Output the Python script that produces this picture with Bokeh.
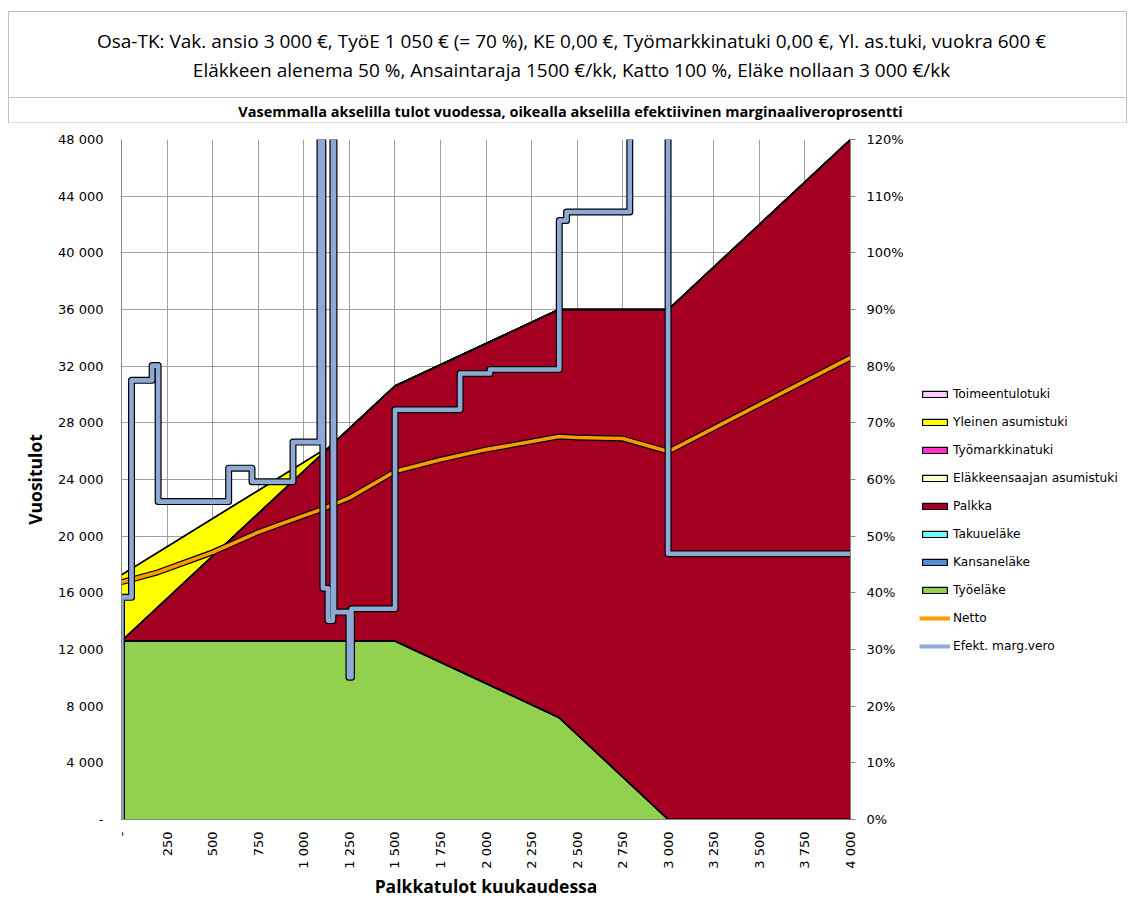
import math
from bokeh.plotting import figure
from bokeh.models import (Range1d, LinearAxis, FixedTicker, ColumnDataSource, Legend,
                          LegendItem, NumeralTickFormatter)
from bokeh.layouts import column, row
from bokeh.embed import file_html
from bokeh.resources import INLINE
from bokeh.core.properties import value

# ---------------- texts ----------------
title_line1 = "Osa-TK: Vak. ansio 3 000 €, TyöE 1 050 € (= 70 %), KE 0,00 €, Työmarkkinatuki 0,00 €, Yl. as.tuki, vuokra 600 €"
title_line2 = "Eläkkeen alenema 50 %, Ansaintaraja 1500 €/kk, Katto 100 %, Eläke nollaan 3 000 €/kk"
subtitle = "Vasemmalla akselilla tulot vuodessa, oikealla akselilla efektiivinen marginaaliveroprosentti"
x_label = "Palkkatulot kuukaudessa"
y_label = "Vuositulot"

# ---------------- stacked income components (annual €) vs monthly wage ----------------
wage_month = [0, 1090, 1095, 1500, 2400, 3000, 4000]
tyoelake = [12600, 12600, 12600, 12600, 7200, 0, 0]
kansanelake = [0, 0, 0, 0, 0, 0, 0]
takuuelake = [0, 0, 0, 0, 0, 0, 0]
palkka = [0, 13080, 13140, 18000, 28800, 36000, 48000]
elakkeensaajan_asumistuki = [0, 0, 0, 0, 0, 0, 0]
tyomarkkinatuki = [0, 0, 0, 0, 0, 0, 0]
yleinen_asumistuki = [4670, 250, 0, 0, 0, 0, 0]
toimeentulotuki = [0, 0, 0, 0, 0, 0, 0]

# ---------------- net income (annual €) ----------------
netto_x = [0, 200, 500, 750, 1000, 1100, 1250, 1500, 1750, 2000, 2250, 2400, 2500, 2750, 3000, 4000]
netto = [16750, 17450, 18860, 20280, 21450, 21900, 22700, 24560, 25400, 26110, 26680, 27030,
         26960, 26890, 25970, 32600]

# ---------------- effective marginal tax rate (share) ----------------
emtr_x = [0, 0, 55, 55, 168, 168, 201, 201, 588, 588, 716, 716, 941, 941, 1089, 1089,
          1105, 1105, 1133, 1133, 1160, 1160, 1166, 1166, 1248, 1248, 1262, 1262, 1501, 1501,
          1858, 1858, 2022, 2022, 2402, 2402, 2442, 2442, 2789, 2789, 2999, 2999, 4000]
emtr = [0.0, 0.392, 0.392, 0.775, 0.775, 0.801, 0.801, 0.561, 0.561, 0.620, 0.620, 0.596,
        0.596, 0.666, 0.666, 1.5, 1.5, 0.408, 0.408, 0.351, 0.351, 1.5, 1.5, 0.366, 0.366,
        0.251, 0.251, 0.372, 0.372, 0.723, 0.723, 0.787, 0.787, 0.794, 0.794, 1.057, 1.057,
        1.072, 1.072, 1.5, 1.5, 0.469, 0.469]

# ---------------- ticks ----------------
x_ticks = [0, 250, 500, 750, 1000, 1250, 1500, 1750, 2000, 2250, 2500, 2750, 3000, 3250, 3500, 3750, 4000]
x_tick_labels = ["-", "250", "500", "750", "1 000", "1 250", "1 500", "1 750", "2 000", "2 250",
                 "2 500", "2 750", "3 000", "3 250", "3 500", "3 750", "4 000"]
y_ticks = [0, 4000, 8000, 12000, 16000, 20000, 24000, 28000, 32000, 36000, 40000, 44000, 48000]
y_tick_labels = ["-", "4 000", "8 000", "12 000", "16 000", "20 000", "24 000", "28 000",
                 "32 000", "36 000", "40 000", "44 000", "48 000"]
pct_ticks = [0.0, 0.1, 0.2, 0.3, 0.4, 0.5, 0.6, 0.7, 0.8, 0.9, 1.0, 1.1, 1.2]

stack_names = ["tyoelake", "kansanelake", "takuuelake", "palkka", "elakkeensaajan_asumistuki",
               "tyomarkkinatuki", "yleinen_asumistuki", "toimeentulotuki"]
stack_labels = ["Työeläke", "Kansaneläke", "Takuueläke", "Palkka", "Eläkkeensaajan asumistuki",
                "Työmarkkinatuki", "Yleinen asumistuki", "Toimeentulotuki"]
stack_colors = ["#92D050", "#558ED5", "#66FFFF", "#A50021", "#FFFFCC", "#FF33CC", "#FFFF00", "#FFCCFF"]
legend_order = ["Toimeentulotuki", "Yleinen asumistuki", "Työmarkkinatuki", "Eläkkeensaajan asumistuki",
                "Palkka", "Takuueläke", "Kansaneläke", "Työeläke"]

FONT = "DejaVu Sans"
TFONT = "Open Sans"
W = 1134
PW = 906          # width of the chart canvas (left border + frame + right axis)
H = 793

# ================= header figure =================
t = figure(width=W, height=123, x_range=Range1d(0, W), y_range=Range1d(123, 0),
           output_backend="svg", toolbar_location=None, min_border=0,
           x_axis_type=None, y_axis_type=None)
t.frame_align = False
t.grid.visible = False
t.outline_line_color = None
t.text(x=[571, 571], y=[40, 69], text=[title_line1, title_line2], text_align="center",
       text_baseline="middle", text_font=value(TFONT), text_font_size="19px", text_color="black")
t.text(x=[570], y=[111], text=[subtitle], text_align="center", text_baseline="middle",
       text_font=value(TFONT), text_font_size="14.5px", text_font_style="bold", text_color="black")
t.segment(x0=[8, 8, 8, 8, 1126], y0=[11, 97, 122.5, 11, 11], x1=[1126, 1126, 1126, 8, 1126],
          y1=[11, 97, 122.5, 123, 123], line_color="#BFBFBF", line_width=1)

# ================= main chart =================
p = figure(width=PW, height=H, x_range=Range1d(0, 4000), y_range=Range1d(0, 48000),
           output_backend="svg", toolbar_location=None,
           min_border_left=121, min_border_right=PW - 121 - 730, min_border_top=16, min_border_bottom=97)
p.frame_align = False
p.outline_line_color = None
p.extra_y_ranges = {"pct": Range1d(0, 1.2)}

src = ColumnDataSource(dict(x=wage_month, tyoelake=tyoelake, kansanelake=kansanelake,
                            takuuelake=takuuelake, palkka=palkka,
                            elakkeensaajan_asumistuki=elakkeensaajan_asumistuki,
                            tyomarkkinatuki=tyomarkkinatuki, yleinen_asumistuki=yleinen_asumistuki,
                            toimeentulotuki=toimeentulotuki))
p.varea_stack(stackers=stack_names, x="x", color=stack_colors, source=src)
p.vline_stack(stackers=stack_names, x="x", line_color="black", line_width=1.5, source=src)

# net income line
p.line(netto_x, netto, line_color="black", line_width=6, line_join="round")
p.line(netto_x, netto, line_color="#FF9900", line_width=3.6, line_join="round")

# effective marginal tax rate line (right axis)
p.line(emtr_x, emtr, y_range_name="pct", line_color="black", line_width=7, line_join="round")
p.line(emtr_x, emtr, y_range_name="pct", line_color="#8EA9D6", line_width=4.6, line_join="round")

# axes
p.xaxis.ticker = FixedTicker(ticks=x_ticks)
p.xaxis.major_label_overrides = dict(zip(x_ticks, x_tick_labels))
p.xaxis.major_label_orientation = math.pi / 2
p.yaxis.ticker = FixedTicker(ticks=y_ticks)
p.yaxis.major_label_overrides = dict(zip(y_ticks, y_tick_labels))

rax = LinearAxis(y_range_name="pct", ticker=FixedTicker(ticks=pct_ticks),
                 formatter=NumeralTickFormatter(format="0%"))
p.add_layout(rax, "right")

for ax in [p.xaxis[0], p.yaxis[0], rax]:
    ax.axis_line_color = "#868686"
    ax.major_tick_line_color = "#868686"
    ax.minor_tick_line_color = None
    ax.major_label_text_font = FONT
    ax.major_label_text_font_size = "13px"
    ax.major_label_text_color = "black"
    ax.axis_label_text_font = TFONT
    ax.axis_label_text_font_style = "bold"
    ax.axis_label_text_font_size = "17.5px"
    ax.axis_label_text_color = "black"

p.xaxis.major_tick_out = 0
p.xaxis.major_tick_in = 0
p.xaxis.major_label_standoff = 12
p.xaxis.axis_label = x_label
p.xaxis.axis_label_standoff = 2
p.yaxis[0].major_tick_out = 0
p.yaxis[0].major_tick_in = 0
p.yaxis[0].major_label_standoff = 18
p.yaxis[0].axis_label = y_label
p.yaxis[0].axis_label_standoff = 8
rax.major_tick_out = 5
rax.major_tick_in = 0
rax.major_label_standoff = 11

p.xgrid.ticker = FixedTicker(ticks=x_ticks)
p.ygrid.ticker = FixedTicker(ticks=y_ticks)
p.grid.grid_line_color = "#A0A0A0"
p.grid.grid_line_width = 1

# ================= legend figure (right of the chart) =================
# renderers here only provide the legend swatches; their single point lies outside the view
lf = figure(width=W - PW, height=H, x_range=Range1d(0, 1), y_range=Range1d(0, 1),
            output_backend="svg", toolbar_location=None, min_border=0,
            x_axis_type=None, y_axis_type=None)
lf.frame_align = False
lf.grid.visible = False
lf.outline_line_color = None

items = []
color_of = dict(zip(stack_labels, stack_colors))
for lab in legend_order:
    r = lf.quad(left=[5], right=[6], top=[6], bottom=[5], fill_color=color_of[lab],
                line_color="black", line_width=1.2)
    items.append(LegendItem(label=lab, renderers=[r]))
rn = lf.line(x=[5, 6], y=[5, 5], line_color="#FF9900", line_width=4)
items.append(LegendItem(label="Netto", renderers=[rn]))
re_ = lf.line(x=[5, 6], y=[5, 5], line_color="#8EA9D6", line_width=4)
items.append(LegendItem(label="Efekt. marg.vero", renderers=[re_]))

legend = Legend(items=items, location=(13, 262), glyph_width=31, glyph_height=8,
                label_height=16, spacing=12, label_standoff=3, padding=10, margin=0,
                border_line_color=None, background_fill_alpha=0,
                label_text_font=FONT, label_text_font_size="12.2px", label_text_color="black")
lf.add_layout(legend)

layout = column(t, row(p, lf))
open("out.html", "w").write(file_html(layout, INLINE))
